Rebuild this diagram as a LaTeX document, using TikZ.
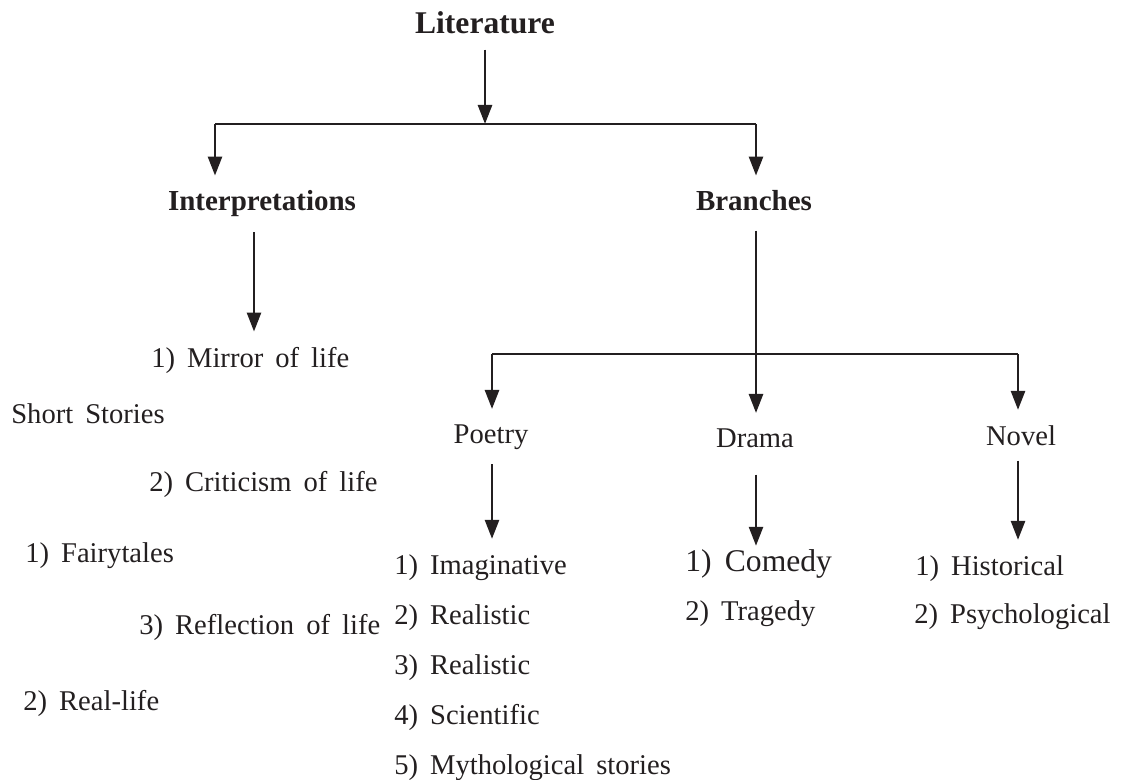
\documentclass[tikz,border=0pt]{standalone}
\usepackage{fontspec}
\setmainfont{Liberation Serif}
\usetikzlibrary{arrows.meta}
\definecolor{ink}{HTML}{231F20}
\newcommand{\wordgap}{\spaceskip=0.42em plus 0.1em\relax}

\begin{document}
\begin{tikzpicture}[
            x=0.5pt, y=-0.5pt,
            color=ink, line width=1.3pt,
            every node/.style={inner xsep=0pt, inner ysep=7pt},
            title/.style={font=\bfseries\fontsize{15.8}{18}\selectfont, anchor=base},
            head/.style={font=\bfseries\fontsize{14.5}{17}\selectfont, anchor=base},
            sub/.style={font=\fontsize{14.3}{17}\selectfont, anchor=base},
            item/.style={font=\fontsize{14.3}{17}\selectfont\wordgap, anchor=base west},
            big/.style={item, font=\fontsize{15.8}{18}\selectfont\wordgap, inner ysep=1pt},
            arr/.style={-{Triangle[length=9.5pt, width=7pt]}}
        ]
            \useasboundingbox (0,0) rectangle (1128,780);

            \node[title] (lit) at (485,34) {Literature};
            \node[head] (interp) at (262,211) {Interpretations};
            \node[head] (branch) at (754,211) {Branches};

            \node[item] (mirror) at (150,367) {1) Mirror of life};
            \node[item] (short) at (10,423) {Short Stories};
            \node[item] (crit) at (148,491) {2) Criticism of life};
            \node[item] (fairy) at (24,562) {1) Fairytales};
            \node[item] (refl) at (138,634) {3) Reflection of life};
            \node[item] (real) at (22,710) {2) Real-life};

            \node[sub] (poetry) at (491,443) {Poetry};
            \node[sub] (drama) at (755,447) {Drama};
            \node[sub] (novel) at (1021,445) {Novel};

            \foreach \kind [count=\i] in {Imaginative, Realistic, Realistic, Scientific, Mythological stories}
                \node[item] (p\i) at (393,524+50*\i) {\i) \kind};
            \node[big] (d1) at (684,571) {1) Comedy};
            \node[item] (d2) at (684,620) {2) Tragedy};
            \node[item] (n1) at (914,575) {1) Historical};
            \node[item] (n2) at (913,623) {2) Psychological};

            \coordinate (top) at (485,124);
            \coordinate (tl) at (215,124);
            \coordinate (tr) at (756,124);
            \coordinate (bl) at (492,354);
            \coordinate (br) at (1018,354);

            \draw[arr] (lit) -- (top);
            \draw (tl) -- (tr);
            \draw[arr] (tl) -- (interp.north -| tl);
            \draw[arr] (tr) -- (branch.north -| tr);
            \draw[arr] ([xshift=-4pt]interp.south) -- ([xshift=-4pt]interp.south |- mirror.north);

            \draw[arr, shorten <=2pt] (branch.south -| tr) -- (drama.north -| tr);
            \draw (bl) -- (br);
            \draw[arr] (bl) -- (poetry.north -| bl);
            \draw[arr] (br) -- (novel.north -| br);

            \draw[arr] (poetry.south -| bl) -- (p1.north -| bl);
            \draw[arr, shorten <=6pt] (drama.south -| tr) -- (d1.north -| tr);
            \draw[arr] (novel.south -| br) -- (n1.north -| br);
        \end{tikzpicture}
\end{document}
